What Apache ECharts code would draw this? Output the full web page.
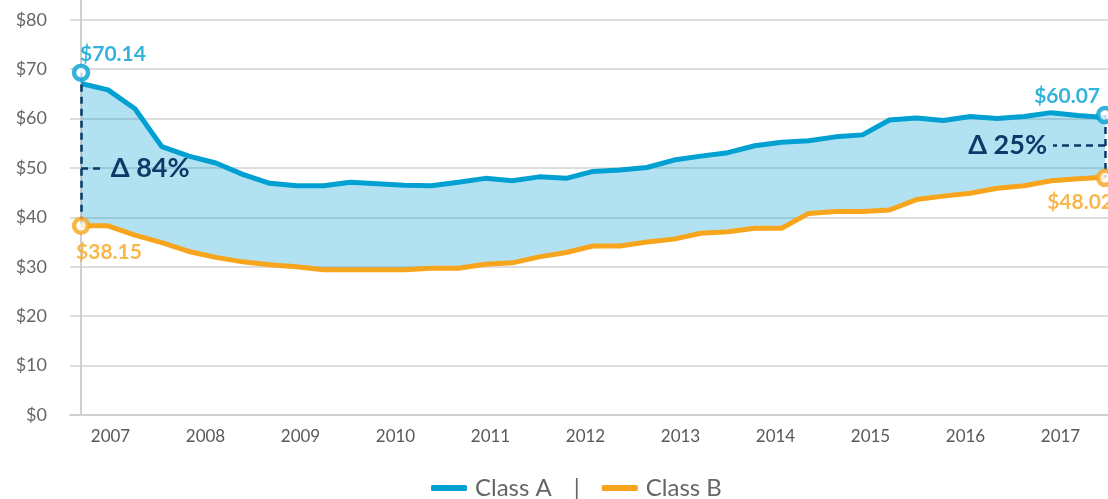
<!DOCTYPE html>
<html>
<head>
<meta charset="utf-8">
<script src="https://cdn.jsdelivr.net/npm/echarts@6/dist/echarts.min.js"></script>
<style>
  html, body { margin: 0; padding: 0; background: #fff; }
  #main { width: 1108px; height: 499px; }
</style>
</head>
<body>
<div id="main"></div>
<script>
// tick labels
var years = ['2007', '2008', '2009', '2010', '2011', '2012', '2013', '2014', '2015', '2016', '2017'];
// price per period
var classA = [67.1, 65.8, 62.0, 54.3, 52.4, 51.0, 48.7, 46.9, 46.4, 46.4, 47.1, 46.8, 46.5, 46.4, 47.1, 47.9, 47.4, 48.2, 47.9, 49.3,
              49.6, 50.1, 51.6, 52.4, 53.1, 54.5, 55.2, 55.5, 56.3, 56.7, 59.7, 60.1, 59.6, 60.4, 60.0, 60.4, 61.2, 60.6, 60.2];
var classB = [38.3, 38.3, 36.4, 34.9, 33.1, 31.9, 31.0, 30.4, 30.0, 29.4, 29.4, 29.4, 29.4, 29.7, 29.7, 30.5, 30.8, 32.0, 32.9, 34.2,
              34.2, 35.0, 35.6, 36.8, 37.1, 37.8, 37.8, 40.8, 41.2, 41.2, 41.5, 43.6, 44.3, 44.9, 45.9, 46.4, 47.4, 47.8, 48.1];
// end point markers
var markerIndex = [0, 0, 38, 38];
var markerValues = [69.3, 38.3, 60.7, 48.0];
var markerLabels = ['$70.14', '$38.15', '$60.07', '$48.02'];
// spread annotations
var deltaLabels = ['Δ 84%', 'Δ 25%'];
var deltaLevels = [50, 54.6];

var blue = '#00a0d2';
var orange = '#f7a51d';
var navy = '#0b3a68';
var last = classA.length - 1;

function pairs(arr) {
    return arr.map(function (v, i) { return [i, v]; });
}

var markerStyles = [
    {color: blue, position: 'top', align: 'left', offset: [-1, 6]},
    {color: orange, position: 'bottom', align: 'left', offset: [-5, 2]},
    {color: blue, position: 'top', align: 'right', offset: [-5, 6]},
    {color: orange, position: 'bottom', align: 'right', offset: [8, 0]}
];

// fill between the two lines, one polygon through the axis scales
function renderBand(params, api) {
    if (params.dataIndex !== 0) {
        return null;
    }
    var pts = [];
    classA.forEach(function (v, i) { pts.push(api.coord([i, v])); });
    for (var i = classB.length - 1; i >= 0; i--) {
        pts.push(api.coord([i, classB[i]]));
    }
    return {
        type: 'polygon',
        shape: {points: pts},
        style: {fill: 'rgba(0,160,210,0.3)'},
        silent: true
    };
}

var chart = echarts.init(document.getElementById('main'));
var option = {
    animation: false,
    textStyle: {fontFamily: 'Lato'},
    grid: [
        {left: 70, right: 0, top: 0, bottom: 84},
        {left: 63, width: 1055, top: 0, bottom: 84}
    ],
    xAxis: [
        {
            type: 'value', gridIndex: 0, min: -0.41, max: 38.11,
            axisLine: {show: true, lineStyle: {color: '#cfcfcf', width: 2}},
            axisTick: {show: false}, axisLabel: {show: false}, splitLine: {show: false}
        },
        {
            type: 'category', gridIndex: 1, data: years, boundaryGap: true,
            axisLine: {show: false}, axisTick: {show: false},
            axisLabel: {color: '#595959', fontSize: 17, margin: 13}
        }
    ],
    yAxis: [
        {
            type: 'value', gridIndex: 0, min: 0, max: 84, interval: 10,
            axisLine: {show: true, lineStyle: {color: '#cfcfcf', width: 2}},
            axisTick: {show: false},
            axisLabel: {
                color: '#666', fontSize: 18, margin: 23, showMaxLabel: false,
                formatter: function (v) { return v % 10 ? '' : '$' + v; }
            },
            splitLine: {show: true, showMaxLine: false, lineStyle: {color: '#d2d2d2', width: 1.5}}
        },
        {type: 'value', gridIndex: 1, min: 0, max: 84, show: false}
    ],
    legend: {
        data: ['Class A', 'Class B'],
        top: 471,
        left: 426,
        icon: 'roundRect',
        itemWidth: 36,
        itemHeight: 6,
        itemGap: 22,
        textStyle: {
            color: '#666', fontSize: 24, padding: [0, 0, 0, 3],
            rich: {sep: {color: '#666', fontSize: 24, padding: [0, 0, 0, 22]}}
        },
        formatter: function (name) {
            return name === 'Class A' ? name + '{sep||}' : name;
        }
    },
    series: [
        {
            name: 'spread', type: 'custom', renderItem: renderBand, silent: true, z: 1,
            encode: {x: 0, y: [1, 2]},
            data: classA.map(function (v, i) { return [i, v, classB[i]]; })
        },
        {
            name: 'Class A', type: 'line', data: pairs(classA), showSymbol: false,
            color: blue, lineStyle: {color: blue, width: 5}, z: 2
        },
        {
            name: 'Class B', type: 'line', data: pairs(classB), showSymbol: false,
            color: orange, lineStyle: {color: orange, width: 5}, z: 2
        },
        {
            name: 'delta', type: 'line', data: [], z: 3, silent: true,
            markLine: {
                silent: true,
                symbol: ['none', 'none'],
                lineStyle: {color: navy, width: 2.5, type: [7, 5]},
                label: {
                    show: true, color: navy, fontSize: 27, fontWeight: 'bold', distance: 6,
                    formatter: function (p) { return p.name || ''; }
                },
                data: [
                    [{coord: [0, markerValues[0]]}, {coord: [0, markerValues[1]]}],
                    [{coord: [0, deltaLevels[0]], name: deltaLabels[0]}, {coord: [0.88, deltaLevels[0]], name: deltaLabels[0]}],
                    [{coord: [last, markerValues[2]]}, {coord: [last, markerValues[3]]}],
                    [{coord: [last, deltaLevels[1]], name: deltaLabels[1]}, {coord: [last - 1.93, deltaLevels[1]], name: deltaLabels[1]}]
                ]
            }
        },
        {
            name: 'ends', type: 'scatter', z: 5, silent: true,
            symbol: 'circle', symbolSize: 14,
            data: markerValues.map(function (v, i) {
                var s = markerStyles[i];
                return {
                    name: markerLabels[i],
                    value: [markerIndex[i], v],
                    itemStyle: {color: '#fff', borderColor: s.color, borderWidth: 4.5},
                    label: {
                        show: true, formatter: '{b}', color: s.color, fontSize: 21, fontWeight: 'bold',
                        position: s.position, align: s.align, offset: s.offset
                    }
                };
            })
        }
    ]
};
chart.setOption(option);
</script>
</body>
</html>
